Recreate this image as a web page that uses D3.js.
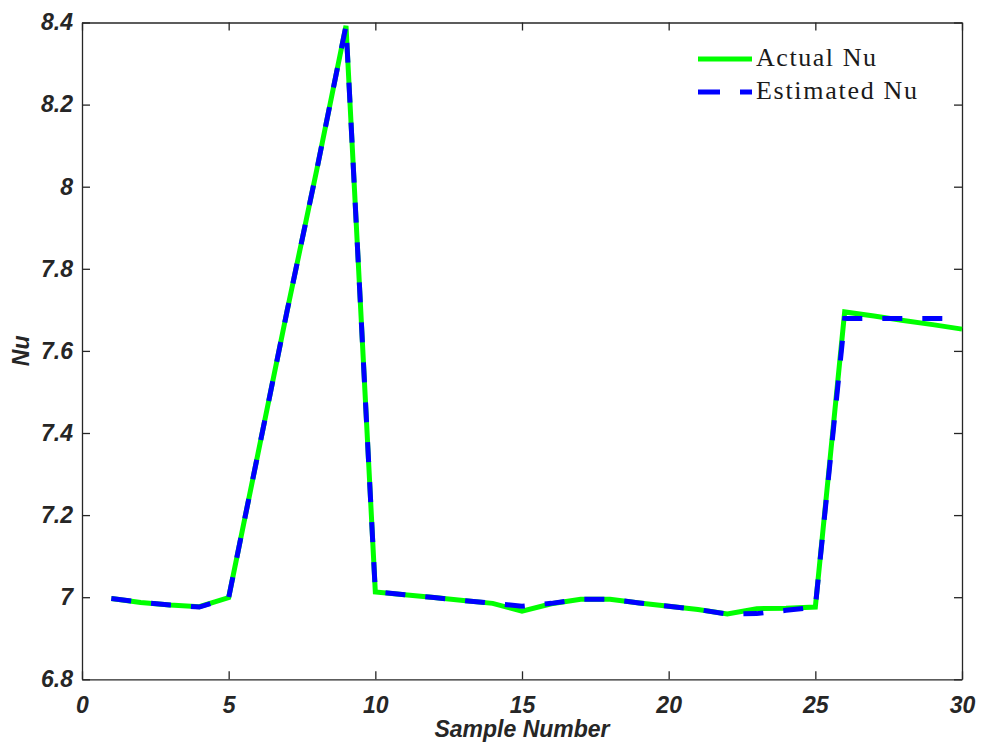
<!DOCTYPE html>
<html>
<head>
<meta charset="utf-8">
<script src="https://cdn.jsdelivr.net/npm/d3@7/dist/d3.min.js"></script>
<style>
  html, body { margin: 0; padding: 0; background: #fff; }
  svg { display: block; }
  .tick text { font-family: "Liberation Sans", Arial, sans-serif; font-weight: bold; font-style: italic; font-size: 23px; fill: #262626; }
  .axis path, .axis line { stroke: #262626; stroke-width: 1.3; }
</style>
</head>
<body>
<svg id="chart" width="983" height="751"></svg>
<script>
// Sample index 1..30
const samples = d3.range(1, 31);

// Measured Nusselt number
const actualNu = [
  6.997, 6.987, 6.981, 6.977, 6.999, 7.35, 7.70, 8.04, 8.392, 7.013,
  7.006, 6.999, 6.992, 6.985, 6.966, 6.984, 6.995, 6.995, 6.986, 6.978,
  6.970, 6.959, 6.972, 6.973, 6.976, 7.695, 7.685, 7.674, 7.664, 7.653
];

// Model-estimated Nusselt number
const estimatedNu = [
  6.997, 6.988, 6.981, 6.976, 6.999, 7.35, 7.70, 8.04, 8.392, 7.013,
  7.006, 6.999, 6.992, 6.985, 6.978, 6.985, 6.995, 6.995, 6.986, 6.978,
  6.970, 6.959, 6.960, 6.968, 6.976, 7.679, 7.679, 7.679, 7.679, 7.679
];

const xTicks = [0, 5, 10, 15, 20, 25, 30];
const yTicks = [6.8, 7, 7.2, 7.4, 7.6, 7.8, 8, 8.2, 8.4];

const seriesNames = ["Actual Nu", "Estimated Nu"];
const seriesColors = ["#00ff00", "#0000ff"];

const W = 983, H = 751;
const margin = { top: 22.5, right: 21, bottom: 71.7, left: 82 };
const iw = W - margin.left - margin.right;
const ih = H - margin.top - margin.bottom;

const svg = d3.select("#chart");
const g = svg.append("g").attr("transform", `translate(${margin.left},${margin.top})`);

const x = d3.scaleLinear().domain([0, 30]).range([0, iw]);
const y = d3.scaleLinear().domain([6.8, 8.4]).range([ih, 0]);

const fmt = d => String(+d.toFixed(1));

// Axes box with inward ticks
g.append("g").attr("class", "axis")
  .attr("transform", `translate(0,${ih})`)
  .call(d3.axisBottom(x).tickValues(xTicks).tickFormat(fmt).tickSize(-8).tickSizeOuter(0).tickPadding(17));
g.append("g").attr("class", "axis")
  .call(d3.axisLeft(y).tickValues(yTicks).tickFormat(fmt).tickSize(-8).tickSizeOuter(0).tickPadding(9));
g.append("g").attr("class", "axis")
  .call(d3.axisTop(x).tickValues(xTicks).tickFormat("").tickSize(-8).tickSizeOuter(0));
g.append("g").attr("class", "axis")
  .attr("transform", `translate(${iw},0)`)
  .call(d3.axisRight(y).tickValues(yTicks).tickFormat("").tickSize(-8).tickSizeOuter(0));

// Series lines
const line = d3.line().x((d, i) => x(samples[i])).y(d => y(d));

g.append("path")
  .datum(actualNu)
  .attr("d", line)
  .attr("fill", "none")
  .attr("stroke", seriesColors[0])
  .attr("stroke-width", 5)
  .attr("stroke-linejoin", "miter");

g.append("path")
  .datum(estimatedNu)
  .attr("d", line)
  .attr("fill", "none")
  .attr("stroke", seriesColors[1])
  .attr("stroke-width", 5)
  .attr("stroke-dasharray", "20,20")
  .attr("stroke-linejoin", "miter");

// Axis titles
svg.append("text")
  .attr("x", margin.left + iw / 2)
  .attr("y", 737)
  .attr("text-anchor", "middle")
  .style("font-family", "'Liberation Sans', Arial, sans-serif")
  .style("font-weight", "bold").style("font-style", "italic")
  .style("font-size", "23px").style("fill", "#262626")
  .text("Sample Number");

svg.append("text")
  .attr("transform", `translate(29,${margin.top + ih / 2}) rotate(-90)`)
  .attr("text-anchor", "middle")
  .style("font-family", "'Liberation Sans', Arial, sans-serif")
  .style("font-weight", "bold").style("font-style", "italic")
  .style("font-size", "23px").style("fill", "#262626")
  .text("Nu");

// Legend
const legend = svg.append("g").attr("transform", "translate(698,0)");
const legendRows = [59, 92];
seriesNames.forEach((name, i) => {
  const row = legend.append("g").attr("transform", `translate(0,${legendRows[i]})`);
  row.append("line")
    .attr("x1", 0).attr("x2", 54).attr("y1", 0).attr("y2", 0)
    .attr("stroke", seriesColors[i]).attr("stroke-width", 5)
    .attr("stroke-dasharray", i === 1 ? "22,20" : null);
  row.append("text")
    .attr("x", 58).attr("y", 7)
    .style("font-family", "'Liberation Serif', 'Times New Roman', serif")
    .style("font-size", "26px").style("fill", "#1a1a1a")
    .attr("textLength", i === 0 ? 120 : 161)
    .attr("lengthAdjust", "spacing")
    .text(name);
});
</script>
</body>
</html>
